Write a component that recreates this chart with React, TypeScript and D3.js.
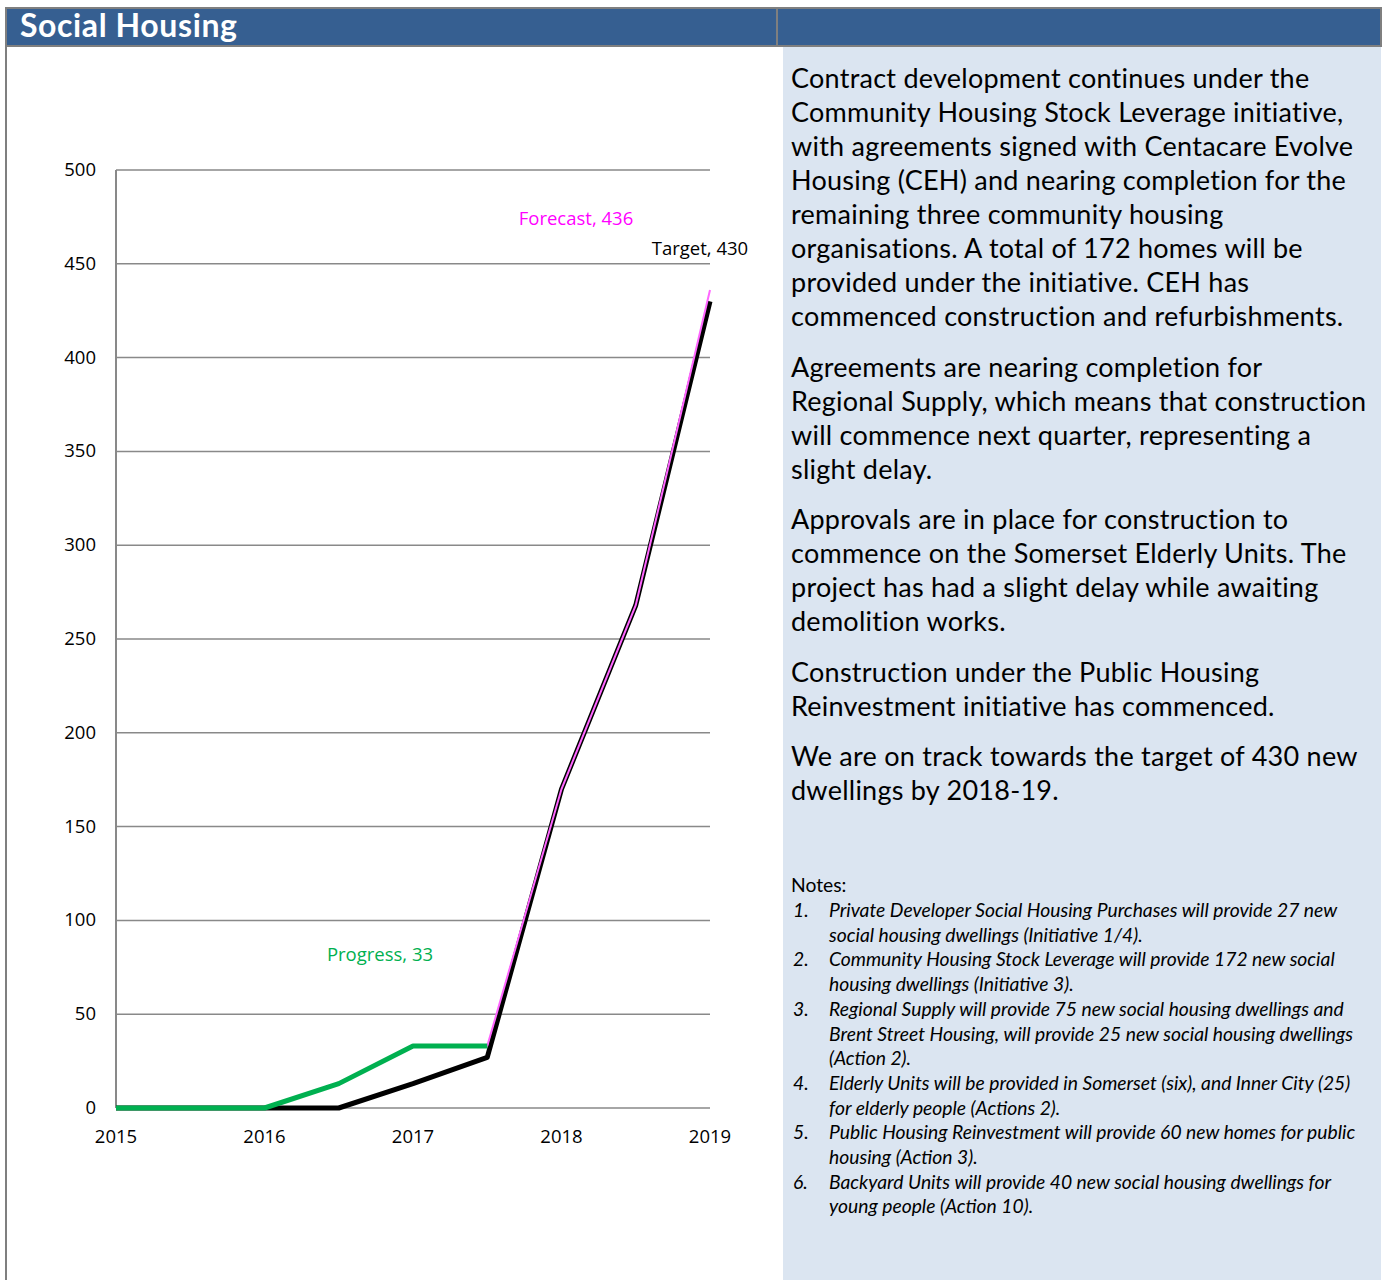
import * as d3 from 'd3'

const years = [2015, 2016, 2017, 2018, 2019]
const yTicks = [0, 50, 100, 150, 200, 250, 300, 350, 400, 450, 500]

// quarterly-ish points (x in fractional years)
const target = [
  { x: 2015, y: 0 }, { x: 2016, y: 0 }, { x: 2016.5, y: 0 }, { x: 2017, y: 13 },
  { x: 2017.5, y: 27 }, { x: 2018, y: 170 }, { x: 2018.5, y: 268 }, { x: 2019, y: 430 },
]
const forecast = [
  { x: 2017.5, y: 33 }, { x: 2018, y: 170 }, { x: 2018.5, y: 268 }, { x: 2019, y: 436 },
]
const progress = [
  { x: 2015, y: 0 }, { x: 2016, y: 0 }, { x: 2016.5, y: 13 }, { x: 2017, y: 33 }, { x: 2017.5, y: 33 },
]

const paragraphs = [
  ['Contract development continues under the', 'Community Housing Stock Leverage initiative,', 'with agreements signed with Centacare Evolve', 'Housing (CEH) and nearing completion for the', 'remaining three community housing', 'organisations. A total of 172 homes will be', 'provided under the initiative. CEH has', 'commenced construction and refurbishments.'],
  ['Agreements are nearing completion for', 'Regional Supply, which means that construction', 'will commence next quarter, representing a', 'slight delay.'],
  ['Approvals are in place for construction to', 'commence on the Somerset Elderly Units. The', 'project has had a slight delay while awaiting', 'demolition works.'],
  ['Construction under the Public Housing', 'Reinvestment initiative has commenced.'],
  ['We are on track towards the target of 430 new', 'dwellings by 2018-19.'],
]

const notes = [
  ['Private Developer Social Housing Purchases will provide 27 new', 'social housing dwellings (Initiative 1/4).'],
  ['Community Housing Stock Leverage will provide 172 new social', 'housing dwellings (Initiative 3).'],
  ['Regional Supply will provide 75 new social housing dwellings and', 'Brent Street Housing, will provide 25 new social housing dwellings', '(Action 2).'],
  ['Elderly Units will be provided in Somerset (six), and Inner City (25)', 'for elderly people (Actions 2).'],
  ['Public Housing Reinvestment will provide 60 new homes for public', 'housing (Action 3).'],
  ['Backyard Units will provide 40 new social housing dwellings for', 'young people (Action 10).'],
]

const W = 1387
const H = 1280
const chartFont = '"Open Sans", sans-serif'
const textFont = 'Lato, sans-serif'
const chartSize = 18.5

export default function App() {
  const x = d3.scaleLinear().domain([2015, 2019]).range([116, 710])
  const y = d3.scaleLinear().domain([0, 500]).range([1108, 170])
  const line = d3.line<{ x: number; y: number }>().x(d => x(d.x)).y(d => y(d.y))

  const paraLines: { t: string; y: number }[] = []
  let cy = 88
  paragraphs.forEach(p => {
    p.forEach(t => { paraLines.push({ t, y: cy }); cy += 34 })
    cy += 16.5
  })

  const noteLines: { t: string; y: number; n?: number }[] = []
  let ny = 917
  notes.forEach((n, i) => {
    n.forEach((t, j) => { noteLines.push({ t, y: ny, n: j === 0 ? i + 1 : undefined }); ny += 24.7 })
  })

  return (
    <div style={{ position: 'absolute', left: 0, top: 0 }}>
      <svg width={W} height={H} style={{ display: 'block' }}>
        <rect x={0} y={0} width={W} height={H} fill="#fff" />
        {/* right panel */}
        <rect x={783} y={46} width={598} height={H - 46} fill="#dbe5f1" />
        {/* header */}
        <rect x={6} y={8} width={1375} height={38} fill="#365f91" stroke="#7f7f7f" strokeWidth={2} />
        <line x1={777} x2={777} y1={8} y2={46} stroke="#7f7f7f" strokeWidth={2} />
        <line x1={6} x2={6} y1={46} y2={H} stroke="#7f7f7f" strokeWidth={2} />
        <text x={20} y={37} fill="#fff" fontFamily={textFont} fontWeight="bold" fontSize={32} letterSpacing={0.6}>Social Housing</text>

        {/* grid */}
        {yTicks.map(t => (
          <g key={t}>
            <line x1={116} x2={710} y1={y(t)} y2={y(t)} stroke="#898989" strokeWidth={1.5} />
            <text x={96} y={y(t) + 6} textAnchor="end" fontFamily={chartFont} fontSize={chartSize} fill="#000">{t}</text>
          </g>
        ))}
        <line x1={116} x2={116} y1={170} y2={1108} stroke="#898989" strokeWidth={2} />
        {years.map(yr => (
          <text key={yr} x={x(yr)} y={1143} textAnchor="middle" fontFamily={chartFont} fontSize={chartSize} fill="#000">{yr}</text>
        ))}

        {/* series */}
        <path d={line(target) ?? ''} fill="none" stroke="#000" strokeWidth={5} strokeLinejoin="round" />
        <path d={line(forecast) ?? ''} fill="none" stroke="#ff66ff" strokeWidth={2} />
        <path d={line(progress) ?? ''} fill="none" stroke="#00b050" strokeWidth={5} strokeLinejoin="round" />

        <text x={576} y={225} textAnchor="middle" fontFamily={chartFont} fontSize={chartSize} fill="#ff00ff">Forecast, 436</text>
        <text x={700} y={255} textAnchor="middle" fontFamily={chartFont} fontSize={chartSize} fill="#000">Target, 430</text>
        <text x={380} y={961} textAnchor="middle" fontFamily={chartFont} fontSize={chartSize} fill="#00b050">Progress, 33</text>

        {/* commentary */}
        {paraLines.map((l, i) => (
          <text key={i} x={791} y={l.y} fontFamily={textFont} fontSize={27} letterSpacing={0.25} fill="#000">{l.t}</text>
        ))}
        <text x={791} y={892} fontFamily={textFont} fontSize={19.3} fill="#000">Notes:</text>
        {noteLines.map((l, i) => (
          <g key={i}>
            {l.n !== undefined && (
              <text x={793} y={l.y} fontFamily={textFont} fontStyle="italic" fontSize={19.3} fill="#000">{l.n}.</text>
            )}
            <text x={829} y={l.y} fontFamily={textFont} fontStyle="italic" fontSize={19.3} fill="#000">{l.t}</text>
          </g>
        ))}
      </svg>
    </div>
  )
}
